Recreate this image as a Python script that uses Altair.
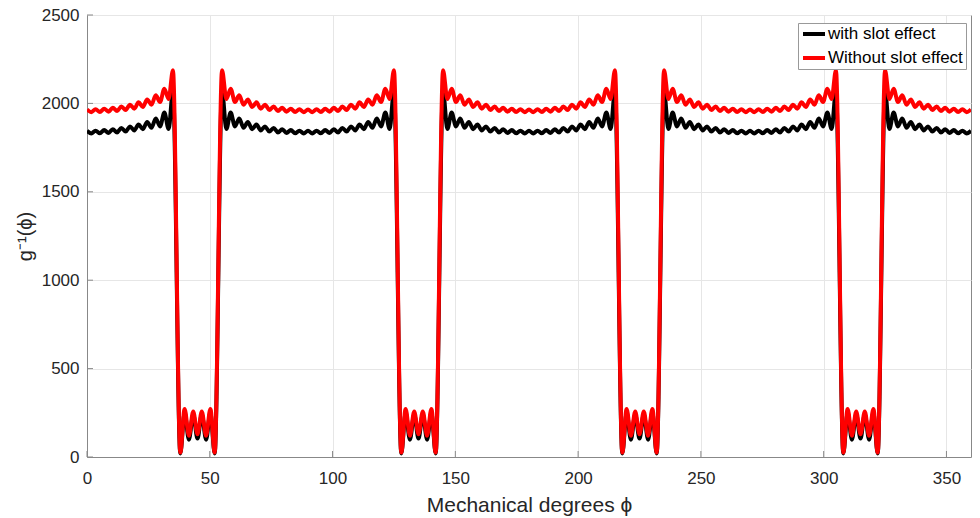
import altair as alt
import pandas as pd

# Mechanical angle (deg) at the read extrema of the curves
phi = [
    0, 1.75, 3.5, 5.25, 7, 8.75, 10.5, 12.25, 14, 15.75, 17.5, 19.25, 21, 22.75, 24.5, 26.25, 28, 29.75, 31.5, 33.25, 35,
    38, 39.75, 41.5, 43.25, 45, 46.75, 48.5, 50.25, 52,
    55, 56.75, 58.5, 60.25, 62, 63.75, 65.5, 67.25, 69, 70.75, 72.5, 74.25, 76, 77.75, 79.5, 81.25, 83, 84.75, 86.5, 88.25,
    90, 91.75, 93.5, 95.25, 97, 98.75, 100.5, 102.25, 104, 105.75, 107.5, 109.25, 111, 112.75, 114.5, 116.25, 118, 119.75, 121.5, 123.25, 125,
    128, 129.75, 131.5, 133.25, 135, 136.75, 138.5, 140.25, 142,
    145, 146.75, 148.5, 150.25, 152, 153.75, 155.5, 157.25, 159, 160.75, 162.5, 164.25, 166, 167.75, 169.5, 171.25, 173, 174.75, 176.5, 178.25,
    180, 181.75, 183.5, 185.25, 187, 188.75, 190.5, 192.25, 194, 195.75, 197.5, 199.25, 201, 202.75, 204.5, 206.25, 208, 209.75, 211.5, 213.25, 215,
    218, 219.75, 221.5, 223.25, 225, 226.75, 228.5, 230.25, 232,
    235, 236.75, 238.5, 240.25, 242, 243.75, 245.5, 247.25, 249, 250.75, 252.5, 254.25, 256, 257.75, 259.5, 261.25, 263, 264.75, 266.5, 268.25,
    270, 271.75, 273.5, 275.25, 277, 278.75, 280.5, 282.25, 284, 285.75, 287.5, 289.25, 291, 292.75, 294.5, 296.25, 298, 299.75, 301.5, 303.25, 305,
    308, 309.75, 311.5, 313.25, 315, 316.75, 318.5, 320.25, 322,
    325, 326.75, 328.5, 330.25, 332, 333.75, 335.5, 337.25, 339, 340.75, 342.5, 344.25, 346, 347.75, 349.5, 351.25, 353, 354.75, 356.5, 358.25,
    360,
]

# g^-1 with slot effect (black)
with_slot = [
    1845, 1830, 1846, 1831, 1849, 1833, 1854, 1836, 1861, 1841, 1870, 1847, 1881, 1854, 1895, 1862, 1915, 1870, 1948, 1855, 2070,
    20, 252, 98, 240, 104, 240, 98, 252, 20,
    2070, 1855, 1948, 1870, 1915, 1862, 1895, 1854, 1881, 1847, 1870, 1841, 1861, 1836, 1854, 1833, 1849, 1831, 1846, 1830,
    1845, 1830, 1846, 1831, 1849, 1833, 1854, 1836, 1861, 1841, 1870, 1847, 1881, 1854, 1895, 1862, 1915, 1870, 1948, 1855, 2070,
    20, 252, 98, 240, 104, 240, 98, 252, 20,
    2070, 1855, 1948, 1870, 1915, 1862, 1895, 1854, 1881, 1847, 1870, 1841, 1861, 1836, 1854, 1833, 1849, 1831, 1846, 1830,
    1845, 1830, 1846, 1831, 1849, 1833, 1854, 1836, 1861, 1841, 1870, 1847, 1881, 1854, 1895, 1862, 1915, 1870, 1948, 1855, 2070,
    20, 252, 98, 240, 104, 240, 98, 252, 20,
    2070, 1855, 1948, 1870, 1915, 1862, 1895, 1854, 1881, 1847, 1870, 1841, 1861, 1836, 1854, 1833, 1849, 1831, 1846, 1830,
    1845, 1830, 1846, 1831, 1849, 1833, 1854, 1836, 1861, 1841, 1870, 1847, 1881, 1854, 1895, 1862, 1915, 1870, 1948, 1855, 2070,
    20, 252, 98, 240, 104, 240, 98, 252, 20,
    2070, 1855, 1948, 1870, 1915, 1862, 1895, 1854, 1881, 1847, 1870, 1841, 1861, 1836, 1854, 1833, 1849, 1831, 1846, 1830,
    1845,
]

# g^-1 without slot effect (red)
without_slot = [
    1966, 1950, 1967, 1951, 1970, 1953, 1975, 1957, 1983, 1963, 1993, 1970, 2006, 1980, 2022, 1992, 2046, 2008, 2083, 2025, 2188,
    25, 272, 120, 258, 128, 258, 120, 272, 25,
    2188, 2025, 2083, 2008, 2046, 1992, 2022, 1980, 2006, 1970, 1993, 1963, 1983, 1957, 1975, 1953, 1970, 1951, 1967, 1950,
    1966, 1950, 1967, 1951, 1970, 1953, 1975, 1957, 1983, 1963, 1993, 1970, 2006, 1980, 2022, 1992, 2046, 2008, 2083, 2025, 2188,
    25, 272, 120, 258, 128, 258, 120, 272, 25,
    2188, 2025, 2083, 2008, 2046, 1992, 2022, 1980, 2006, 1970, 1993, 1963, 1983, 1957, 1975, 1953, 1970, 1951, 1967, 1950,
    1966, 1950, 1967, 1951, 1970, 1953, 1975, 1957, 1983, 1963, 1993, 1970, 2006, 1980, 2022, 1992, 2046, 2008, 2083, 2025, 2188,
    25, 272, 120, 258, 128, 258, 120, 272, 25,
    2188, 2025, 2083, 2008, 2046, 1992, 2022, 1980, 2006, 1970, 1993, 1963, 1983, 1957, 1975, 1953, 1970, 1951, 1967, 1950,
    1966, 1950, 1967, 1951, 1970, 1953, 1975, 1957, 1983, 1963, 1993, 1970, 2006, 1980, 2022, 1992, 2046, 2008, 2083, 2025, 2188,
    25, 272, 120, 258, 128, 258, 120, 272, 25,
    2188, 2025, 2083, 2008, 2046, 1992, 2022, 1980, 2006, 1970, 1993, 1963, 1983, 1957, 1975, 1953, 1970, 1951, 1967, 1950,
    1966,
]

series_names = ["with slot effect", "Without slot effect"]
series_colors = ["#000000", "#ff0000"]
x_ticks = [0, 50, 100, 150, 200, 250, 300, 350]
y_ticks = [0, 500, 1000, 1500, 2000, 2500]

n = len(phi)
df = pd.DataFrame({
    "phi": phi + phi,
    "g": with_slot + without_slot,
    "series": [series_names[0]] * n + [series_names[1]] * n,
})

FONT = "Liberation Sans"
AX = "#888888"
W, H = 884, 442

xs = alt.Scale(domain=[0, 360], nice=False, zero=False)
ys = alt.Scale(domain=[0, 2500], nice=False, zero=False)
cs = alt.Scale(domain=series_names, range=series_colors)

x_axis = alt.Axis(values=x_ticks, format="d", title="Mechanical degrees ϕ",
                  labelPadding=13, titlePadding=8, labelFlush=False, titleFontSize=21)
y_axis = alt.Axis(values=y_ticks, format="d", title="g⁻¹(ϕ)",
                  labelPadding=8, titlePadding=6, labelFlush=False)

base = alt.Chart(df).mark_line(strokeWidth=4, interpolate="monotone", clip=True).encode(
    x=alt.X("phi:Q", scale=xs, axis=x_axis),
    y=alt.Y("g:Q", scale=ys, axis=y_axis),
    color=alt.Color("series:N", scale=cs,
                    legend=alt.Legend(title=None, orient="none", legendX=711, legendY=8,
                                      symbolType="stroke", symbolSize=484, symbolStrokeWidth=4,
                                      labelFont=FONT, labelFontSize=17, labelColor="#000000",
                                      labelOffset=1, fillColor="#ffffff", strokeColor="#999999",
                                      padding=3, rowPadding=7, clipHeight=16)),
)
black_line = base.transform_filter(alt.datum.series == series_names[0])
red_line = base.transform_filter(alt.datum.series == series_names[1])

xt = alt.Chart(pd.DataFrame({"t": x_ticks})).mark_rule(color=AX, strokeWidth=1).encode(
    x=alt.X("t:Q", scale=xs, axis=x_axis), y=alt.value(H), y2=alt.value(H - 6))
yt = alt.Chart(pd.DataFrame({"t": y_ticks})).mark_rule(color=AX, strokeWidth=1).encode(
    y=alt.Y("t:Q", scale=ys, axis=y_axis), x=alt.value(0), x2=alt.value(6))

chart = alt.layer(xt, yt, black_line, red_line).properties(
    width=W, height=H,
    padding={"left": 87, "top": 15, "right": 9, "bottom": 61},
    autosize=alt.AutoSizeParams(type="none"),
).configure_view(
    stroke=AX, strokeWidth=1
).configure_axis(
    domainColor=AX, gridColor="#e6e6e6", grid=True, ticks=False, tickSize=0,
    labelFont=FONT, labelFontSize=17, labelColor="#262626",
    titleFont=FONT, titleFontSize=20, titleFontWeight="normal", titleColor="#262626",
)

chart.save("out.html", embed_options={"renderer": "svg", "actions": False})
